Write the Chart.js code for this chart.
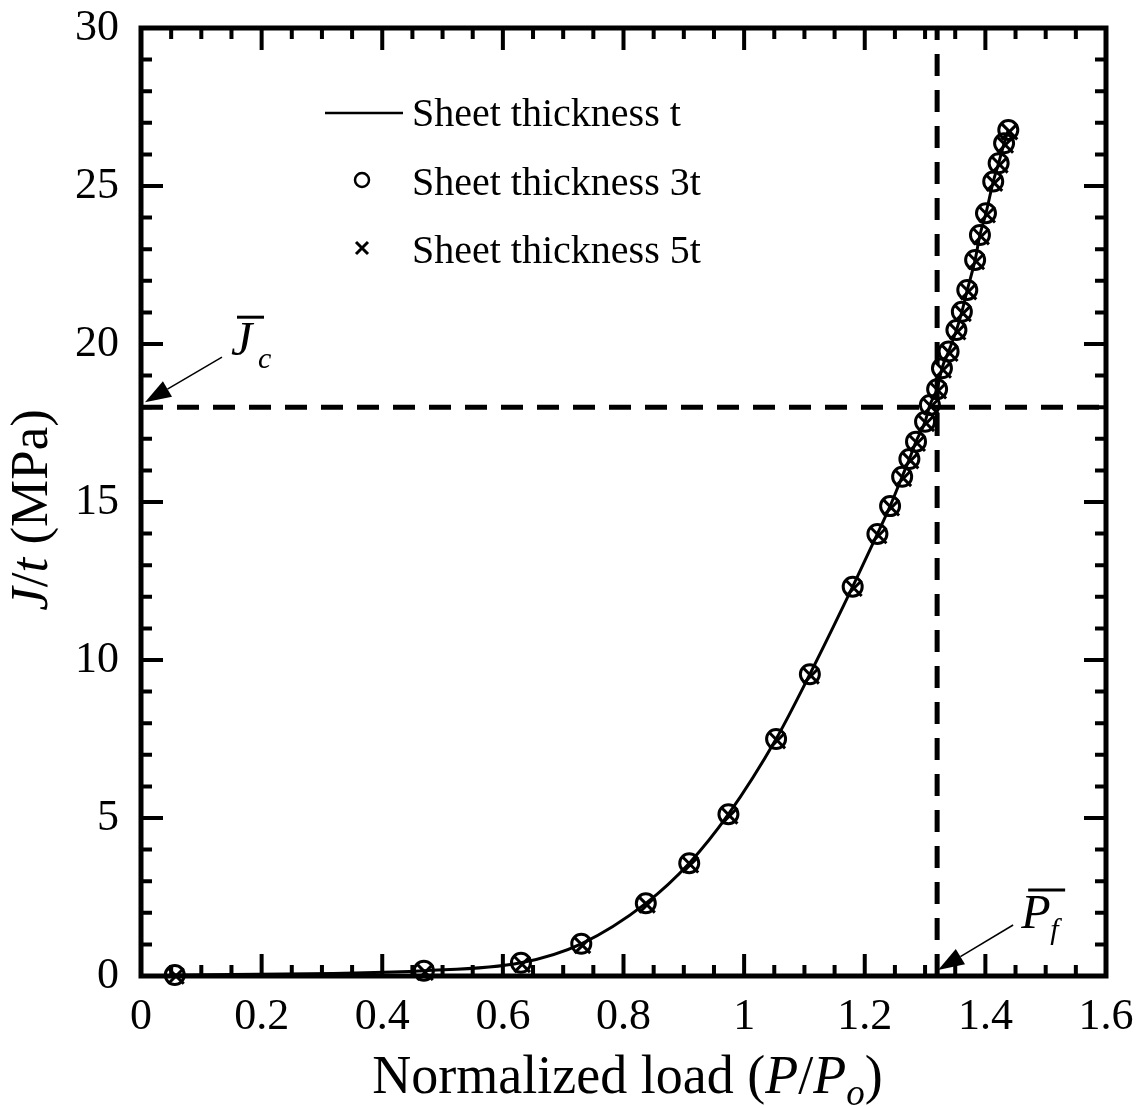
<!DOCTYPE html>
<html>
<head>
<meta charset="utf-8">
<script src="https://cdn.jsdelivr.net/npm/chart.js@4.4.1/dist/chart.umd.min.js"></script>
<style>
  html, body { margin: 0; padding: 0; background: #fff; }
  canvas { display: block; }
</style>
</head>
<body>
<canvas id="chart" width="1145" height="1106"></canvas>
<script>
// normalized load P/Po and J/t (MPa)
const loadT = [0.056, 0.469, 0.630, 0.730, 0.837, 0.909, 0.974, 1.053, 1.109, 1.180, 1.221, 1.242, 1.262, 1.274, 1.285, 1.300, 1.308, 1.320, 1.328, 1.339, 1.352, 1.361, 1.370, 1.383, 1.391, 1.401, 1.413, 1.422, 1.431, 1.438];
const jT = [0.03, 0.17, 0.42, 1.02, 2.30, 3.57, 5.12, 7.50, 9.55, 12.32, 13.99, 14.87, 15.80, 16.36, 16.91, 17.54, 18.07, 18.57, 19.23, 19.76, 20.44, 21.02, 21.71, 22.66, 23.45, 24.14, 25.14, 25.72, 26.35, 26.77];

const load3t = [0.056, 0.469, 0.630, 0.730, 0.837, 0.909, 0.974, 1.053, 1.109, 1.180, 1.221, 1.242, 1.262, 1.274, 1.285, 1.300, 1.308, 1.320, 1.328, 1.339, 1.352, 1.361, 1.370, 1.383, 1.391, 1.401, 1.413, 1.422, 1.431, 1.438];
const j3t = [0.03, 0.17, 0.42, 1.02, 2.30, 3.57, 5.12, 7.50, 9.55, 12.32, 13.99, 14.87, 15.80, 16.36, 16.91, 17.54, 18.07, 18.57, 19.23, 19.76, 20.44, 21.02, 21.71, 22.66, 23.45, 24.14, 25.14, 25.72, 26.35, 26.77];

const load5t = [0.058, 0.471, 0.632, 0.732, 0.839, 0.911, 0.976, 1.055, 1.111, 1.182, 1.223, 1.244, 1.264, 1.276, 1.287, 1.302, 1.310, 1.322, 1.330, 1.341, 1.354, 1.363, 1.372, 1.385, 1.393, 1.403, 1.415, 1.424, 1.433, 1.440];
const j5t = [0.0, 0.12, 0.37, 0.97, 2.25, 3.52, 5.07, 7.45, 9.50, 12.27, 13.94, 14.82, 15.75, 16.31, 16.86, 17.49, 18.02, 18.52, 19.18, 19.71, 20.39, 20.97, 21.66, 22.61, 23.40, 24.09, 25.09, 25.67, 26.30, 26.72];

const xTickLabels = ['0', '0.2', '0.4', '0.6', '0.8', '1', '1.2', '1.4', '1.6'];
const yTickLabels = ['0', '5', '10', '15', '20', '25', '30'];

const jCritical = 18;   // J-bar_c
const pFailure = 1.32;  // P-bar_f

const FONT = "'Liberation Serif', 'Times New Roman', serif";

function pts(xs, ys) {
  return xs.map((x, i) => ({ x: x, y: ys[i] }));
}

// draw a run of text pieces with mixed styles, starting at x
function drawRuns(ctx, runs, x, y) {
  runs.forEach((r) => {
    ctx.font = r.font;
    ctx.fillText(r.text, x, y + (r.dy || 0));
    x += ctx.measureText(r.text).width;
  });
}
function runsWidth(ctx, runs) {
  let w = 0;
  runs.forEach((r) => {
    ctx.font = r.font;
    w += ctx.measureText(r.text).width;
  });
  return w;
}

function arrow(ctx, x1, y1, x2, y2) {
  const ang = Math.atan2(y2 - y1, x2 - x1);
  const len = 26, half = 9;
  const bx = x2 - len * Math.cos(ang), by = y2 - len * Math.sin(ang);
  ctx.lineWidth = 1.5;
  ctx.beginPath();
  ctx.moveTo(x1, y1);
  ctx.lineTo(bx, by);
  ctx.stroke();
  ctx.beginPath();
  ctx.moveTo(x2, y2);
  ctx.lineTo(bx + half * Math.sin(ang), by - half * Math.cos(ang));
  ctx.lineTo(bx - half * Math.sin(ang), by + half * Math.cos(ang));
  ctx.closePath();
  ctx.fill();
}

// frame with inward ticks on all four sides
const framePlugin = {
  id: 'frame',
  beforeDatasetsDraw(chart) {
    const { ctx, chartArea: a, scales: { x, y } } = chart;
    ctx.save();
    ctx.strokeStyle = '#000';
    ctx.lineCap = 'butt';
    ctx.lineWidth = 4;
    for (let i = 0; i <= 32; i++) {
      const v = i * 0.05;
      const px = x.getPixelForValue(v);
      const len = i % 4 === 0 ? 22 : 11;
      ctx.beginPath();
      ctx.moveTo(px, a.bottom); ctx.lineTo(px, a.bottom - len);
      ctx.moveTo(px, a.top); ctx.lineTo(px, a.top + len);
      ctx.stroke();
    }
    for (let i = 0; i <= 30; i++) {
      const py = y.getPixelForValue(i);
      const len = i % 5 === 0 ? 22 : 11;
      ctx.beginPath();
      ctx.moveTo(a.left, py); ctx.lineTo(a.left + len, py);
      ctx.moveTo(a.right, py); ctx.lineTo(a.right - len, py);
      ctx.stroke();
    }
    ctx.lineWidth = 5;
    ctx.lineJoin = 'miter';
    ctx.strokeRect(a.left, a.top, a.right - a.left, a.bottom - a.top);
    ctx.restore();
  },
  afterDatasetsDraw(chart) {
    const { ctx, chartArea: a, scales: { x, y } } = chart;
    ctx.save();
    ctx.fillStyle = '#000';
    ctx.strokeStyle = '#000';
    ctx.textBaseline = 'alphabetic';
    ctx.textAlign = 'left';

    // x title
    const xRuns = [
      { text: 'Normalized load (', font: '54px ' + FONT },
      { text: 'P', font: 'italic 54px ' + FONT },
      { text: '/', font: '54px ' + FONT },
      { text: 'P', font: 'italic 54px ' + FONT },
      { text: 'o', font: 'italic 37px ' + FONT, dy: 12 },
      { text: ')', font: '54px ' + FONT }
    ];
    const cx = (a.left + a.right) / 2 + 4;
    drawRuns(ctx, xRuns, cx - runsWidth(ctx, xRuns) / 2, 1093);

    // y title
    const yRuns = [
      { text: 'J', font: 'italic 53px ' + FONT },
      { text: '/', font: '53px ' + FONT },
      { text: 't', font: 'italic 53px ' + FONT },
      { text: ' (MPa)', font: '53px ' + FONT }
    ];
    ctx.save();
    ctx.translate(47, 510);
    ctx.rotate(-Math.PI / 2);
    drawRuns(ctx, yRuns, -runsWidth(ctx, yRuns) / 2, 0);
    ctx.restore();

    // J-bar_c label and arrow
    const jx = x.getPixelForValue(0), jy = y.getPixelForValue(jCritical);
    arrow(ctx, jx + 81, jy - 50, jx + 4, jy - 5);
    ctx.font = 'italic 48px ' + FONT;
    ctx.fillText('J', jx + 90, jy - 52);
    ctx.font = 'italic 30px ' + FONT;
    ctx.fillText('c', jx + 117, jy - 39);
    ctx.lineWidth = 3;
    ctx.beginPath();
    ctx.moveTo(jx + 96, jy - 90); ctx.lineTo(jx + 123, jy - 90);
    ctx.stroke();

    // P-bar_f label and arrow
    const px = x.getPixelForValue(pFailure), py = y.getPixelForValue(0);
    arrow(ctx, px + 76, py - 51, px + 1, py - 6);
    ctx.font = 'italic 48px ' + FONT;
    ctx.fillText('P', px + 84, py - 48);
    ctx.font = 'italic 30px ' + FONT;
    ctx.fillText('f', px + 113, py - 37);
    ctx.lineWidth = 3;
    ctx.beginPath();
    ctx.moveTo(px + 91, py - 86); ctx.lineTo(px + 128, py - 86);
    ctx.stroke();

    // legend
    const labels = chart.data.datasets.slice(0, 3).map((d) => d.label);
    ctx.font = '40px ' + FONT;
    ctx.fillText(labels[0], 412, 126);
    ctx.fillText(labels[1], 412, 195);
    ctx.fillText(labels[2], 412, 263);
    ctx.lineWidth = 2.5;
    ctx.beginPath();
    ctx.moveTo(325, 113); ctx.lineTo(403, 113);
    ctx.stroke();
    ctx.lineWidth = 2.5;
    ctx.beginPath();
    ctx.arc(362, 180, 7, 0, Math.PI * 2);
    ctx.stroke();
    ctx.lineWidth = 3;
    ctx.beginPath();
    ctx.moveTo(356, 242); ctx.lineTo(368, 254);
    ctx.moveTo(368, 242); ctx.lineTo(356, 254);
    ctx.stroke();
    ctx.restore();
  }
};

const ctx = document.getElementById('chart').getContext('2d');
new Chart(ctx, {
  type: 'scatter',
  data: {
    datasets: [
      {
        label: 'Sheet thickness t',
        data: pts(loadT, jT),
        showLine: true,
        borderColor: '#000',
        borderWidth: 3,
        pointRadius: 0,
        cubicInterpolationMode: 'monotone',
        fill: false,
        clip: false
      },
      {
        label: 'Sheet thickness 3t',
        data: pts(load3t, j3t),
        pointStyle: 'circle',
        pointRadius: 9.5,
        borderWidth: 3,
        borderColor: '#000',
        backgroundColor: 'rgba(0,0,0,0)',
        clip: false
      },
      {
        label: 'Sheet thickness 5t',
        data: pts(load5t, j5t),
        pointStyle: 'crossRot',
        pointRadius: 11,
        borderWidth: 3,
        borderColor: '#000',
        backgroundColor: '#000',
        clip: false
      },
      {
        label: 'Jc',
        data: [{ x: 0, y: jCritical }, { x: 1.6, y: jCritical }],
        showLine: true,
        borderColor: '#000',
        borderWidth: 5,
        borderDash: [22, 14],
        pointRadius: 0
      },
      {
        label: 'Pf',
        data: [{ x: pFailure, y: 0 }, { x: pFailure, y: 30 }],
        showLine: true,
        borderColor: '#000',
        borderWidth: 5,
        borderDash: [22, 14],
        pointRadius: 0
      }
    ]
  },
  options: {
    responsive: false,
    animation: false,
    layout: { padding: { top: 28, right: 39, left: 0, bottom: 0 } },
    plugins: {
      legend: { display: false },
      tooltip: { enabled: false }
    },
    scales: {
      x: {
        type: 'linear',
        min: 0,
        max: 1.6,
        grid: { display: false, drawTicks: false },
        border: { display: false },
        afterBuildTicks(s) { s.ticks = xTickLabels.map((t) => ({ value: Number(t) })); },
        afterFit(s) { s.height = 130; s.paddingLeft = 0; s.paddingRight = 0; },
        ticks: {
          color: '#000',
          padding: 15,
          maxRotation: 0,
          font: { family: FONT, size: 44 },
          callback: (v) => xTickLabels[xTickLabels.map(Number).indexOf(v)]
        }
      },
      y: {
        type: 'linear',
        min: 0,
        max: 30,
        grid: { display: false, drawTicks: false },
        border: { display: false },
        afterBuildTicks(s) { s.ticks = yTickLabels.map((t) => ({ value: Number(t) })); },
        afterFit(s) { s.width = 141; s.paddingTop = 0; s.paddingBottom = 0; },
        ticks: {
          color: '#000',
          padding: 22,
          font: { family: FONT, size: 44 },
          callback: (v) => yTickLabels[yTickLabels.map(Number).indexOf(v)]
        }
      }
    }
  },
  plugins: [framePlugin]
});
</script>
</body>
</html>
